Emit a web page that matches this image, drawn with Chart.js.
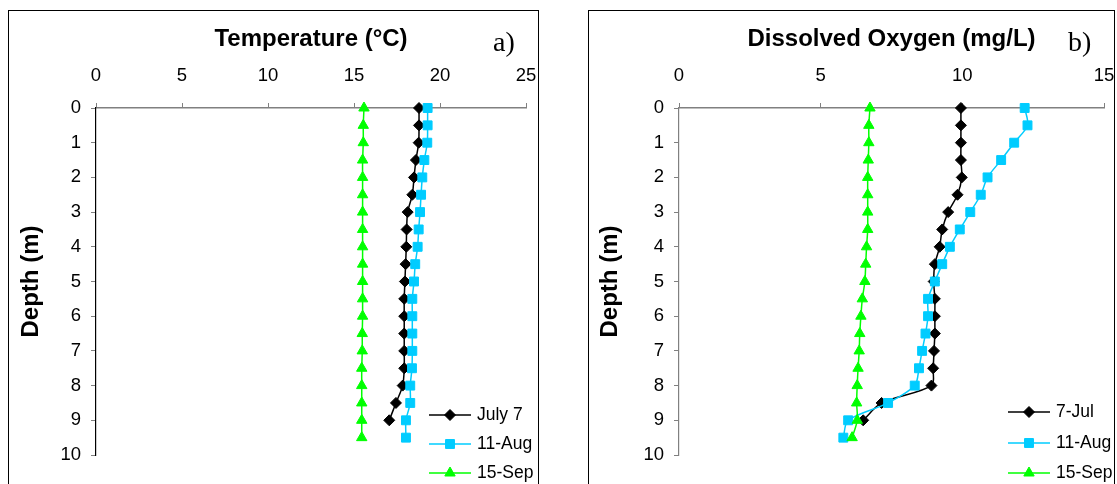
<!DOCTYPE html>
<html>
<head>
<meta charset="utf-8">
<script src="https://cdn.jsdelivr.net/npm/chart.js@4.4.0/dist/chart.umd.min.js"></script>
<style>
html, body { margin: 0; padding: 0; width: 1117px; height: 484px; overflow: hidden; background: #fff; }
.panel { position: absolute; border: 1px solid #000; box-sizing: border-box; }
.wrap { position: absolute; top: 0; }
.tag { position: absolute; font-family: "Liberation Serif", "Times New Roman", serif; font-size: 28px; line-height: 30px; }
</style>
</head>
<body>
<div class="panel" style="left:8px;top:10px;width:531px;height:520px"></div>
<div class="panel" style="left:588px;top:10px;width:527px;height:520px"></div>
<div class="wrap" style="left:0"><canvas id="tempChart" width="560" height="540"></canvas></div>
<div class="wrap" style="left:560px"><canvas id="doChart" width="580" height="540"></canvas></div>
<div class="tag" style="left:493px;top:27px">a)</div>
<div class="tag" style="left:1068px;top:27px">b)</div>

<script>
// depth of each reading (m)
var depthsJul = [0, 0.5, 1, 1.5, 2, 2.5, 3, 3.5, 4, 4.5, 5, 5.5, 6, 6.5, 7, 7.5, 8, 8.5, 9];
var depthsAugSep = [0, 0.5, 1, 1.5, 2, 2.5, 3, 3.5, 4, 4.5, 5, 5.5, 6, 6.5, 7, 7.5, 8, 8.5, 9, 9.5];

// temperature (°C)
var tempJul = [18.78, 18.78, 18.76, 18.6, 18.49, 18.39, 18.12, 18.06, 18.04, 18.0, 17.96, 17.92, 17.92, 17.92, 17.92, 17.92, 17.83, 17.44, 17.05];
var tempAug = [19.28, 19.28, 19.26, 19.09, 18.97, 18.9, 18.84, 18.76, 18.7, 18.56, 18.49, 18.39, 18.39, 18.39, 18.39, 18.37, 18.27, 18.27, 18.02, 18.02];
var tempSep = [15.58, 15.54, 15.54, 15.5, 15.5, 15.5, 15.5, 15.5, 15.5, 15.5, 15.5, 15.5, 15.5, 15.48, 15.48, 15.45, 15.45, 15.45, 15.45, 15.45];

// dissolved oxygen (mg/L)
var doJul = [9.95, 9.95, 9.95, 9.95, 9.98, 9.83, 9.5, 9.29, 9.2, 9.03, 8.99, 9.03, 9.03, 9.03, 9.0, 8.97, 8.91, 7.15, 6.5];
var doAug = [12.2, 12.3, 11.83, 11.37, 10.89, 10.65, 10.28, 9.91, 9.56, 9.29, 9.03, 8.79, 8.79, 8.7, 8.58, 8.47, 8.32, 7.38, 5.97, 5.8];
var doSep = [6.74, 6.7, 6.7, 6.68, 6.66, 6.66, 6.66, 6.66, 6.62, 6.59, 6.56, 6.47, 6.42, 6.38, 6.36, 6.32, 6.29, 6.27, 6.29, 6.11];

var tempLabels = ['July 7', '11-Aug', '15-Sep'];
var doLabels = ['7-Jul', '11-Aug', '15-Sep'];
var depthTicks = [0, 1, 2, 3, 4, 5, 6, 7, 8, 9, 10];

Chart.defaults.font.family = '"Liberation Sans", Arial, sans-serif';
Chart.defaults.color = '#000';

// legend drawn inside the plot, lower right, like the Excel original
var cornerLegend = {
    id: 'cornerLegend',
    afterDraw: function(chart, args, opts) {
        var ctx = chart.ctx, area = chart.chartArea;
        ctx.save();
        ctx.font = '17.5px "Liberation Sans", Arial, sans-serif';
        ctx.textBaseline = 'middle';
        chart.data.datasets.forEach(function(ds, i) {
            var y = area.bottom + opts.rows[i];
            var x0 = area.right + opts.left;
            ctx.strokeStyle = ds.borderColor;
            ctx.lineWidth = ds.borderWidth;
            ctx.beginPath();
            ctx.moveTo(x0, y);
            ctx.lineTo(x0 + 42, y);
            ctx.stroke();
            ctx.fillStyle = ds.pointBackgroundColor;
            ctx.lineWidth = 1;
            Chart.helpers.drawPoint(ctx, { pointStyle: ds.pointStyle, radius: ds.pointRadius, rotation: 0, borderWidth: 1 }, x0 + 21, y);
            ctx.fillStyle = '#000';
            ctx.fillText(ds.label, x0 + 48, y);
        });
        ctx.restore();
    }
};

function pts(depths, vals) {
    return depths.map(function(d, i) { return { x: vals[i], y: d }; });
}

function series(label, depths, vals, color, style, radius, order) {
    return {
        label: label,
        data: pts(depths, vals),
        showLine: true,
        borderColor: color,
        backgroundColor: color,
        pointBackgroundColor: color,
        pointBorderColor: color,
        borderWidth: 1.5,
        pointStyle: style,
        pointRadius: radius,
        pointBorderWidth: 1,
        tension: 0.3,
        clip: false,
        order: order
    };
}

function makeChart(id, title, xMax, vals, labels, opts) {
    var ctx = document.getElementById(id).getContext('2d');
    return new Chart(ctx, {
        type: 'scatter',
        data: {
            datasets: [
                series(labels[0], depthsJul, vals[0], '#000000', 'rectRot', 5.5, 2),
                series(labels[1], depthsAugSep, vals[1], '#00CCFF', 'rect', 6.3, 1),
                series(labels[2], depthsAugSep, vals[2], '#00FF00', 'triangle', 6, 0)
            ]
        },
        options: {
            responsive: false,
            animation: false,
            layout: { padding: opts.padding },
            plugins: {
                legend: { display: false },
                tooltip: { enabled: false },
                cornerLegend: { left: opts.legendLeft, rows: opts.legendRows }
            },
            scales: {
                x: {
                    type: 'linear',
                    position: 'top',
                    min: 0,
                    max: xMax,
                    ticks: { stepSize: 5, padding: 16, font: { size: 18.5 } },
                    grid: { drawOnChartArea: false, drawTicks: true, tickLength: 5, color: '#808080' },
                    border: { color: '#808080', width: 1.5 },
                    title: { display: true, text: title, padding: 5, font: { size: 24, weight: 'bold' } },
                    afterFit: function(scale) { scale.height = opts.xHeight; }
                },
                y: {
                    type: 'linear',
                    reverse: true,
                    min: 0,
                    max: 10,
                    afterBuildTicks: function(scale) { scale.ticks = depthTicks.map(function(v) { return { value: v }; }); },
                    ticks: { padding: 10, font: { size: 18.5 } },
                    grid: { drawOnChartArea: false, drawTicks: true, tickLength: 5, color: '#808080' },
                    border: { color: opts.yColor, width: 1.2 },
                    title: { display: true, text: 'Depth (m)', padding: 7, font: { size: 24, weight: 'bold' } },
                    afterFit: function(scale) { scale.width = opts.yWidth; }
                }
            }
        },
        plugins: [cornerLegend]
    });
}

makeChart('tempChart', 'Temperature (°C)', 25, [tempJul, tempAug, tempSep], tempLabels, {
    padding: { left: 10, top: 20, right: 34, bottom: 85 },
    xHeight: 88,
    yWidth: 86,
    yColor: '#000',
    legendLeft: -97,
    legendRows: [-40, -11, 18]
});

makeChart('doChart', 'Dissolved Oxygen (mg/L)', 15, [doJul, doAug, doSep], doLabels, {
    padding: { left: 29, top: 20, right: 36, bottom: 85 },
    xHeight: 88,
    yWidth: 90,
    yColor: '#808080',
    legendLeft: -96,
    legendRows: [-43, -12, 18]
});
</script>
</body>
</html>
